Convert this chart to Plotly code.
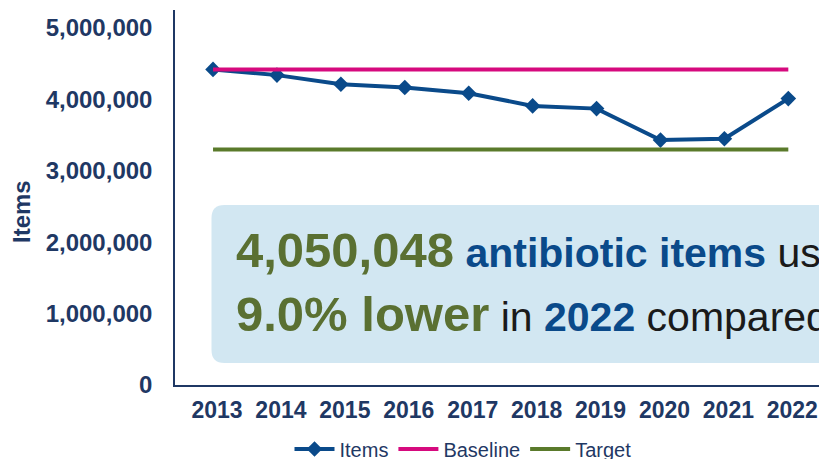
import plotly.graph_objects as go

# Annual antibiotic items with baseline and target reference levels
years = ["2013", "2014", "2015", "2016", "2017", "2018", "2019", "2020", "2021", "2022"]
items = [4420000, 4340000, 4213000, 4167000, 4087000, 3909000, 3871000, 3430000, 3448000, 4011000]
baseline = [4420000] * len(years)
target = [3300000] * len(years)
y_ticks = [0, 1000000, 2000000, 3000000, 4000000, 5000000]

NAVY = "#1F3864"
BLUE = "#0A4A8A"
MAGENTA = "#D60A7E"
GREEN_LINE = "#5A7A2B"
GREEN_TEXT = "#5A7032"
FONT = "Liberation Sans, Arial, sans-serif"

W, H = 819, 459
ML, MR, MT, MB = 175, 0, 10, 74
PW, PH = W - ML - MR, H - MT - MB


def px(x):
    return (x - ML) / PW


def py(y):
    return (H - MB - y) / PH


fig = go.Figure()
fig.add_trace(go.Scatter(
    x=years, y=items, name="Items", mode="lines+markers",
    line=dict(color=BLUE, width=4),
    marker=dict(symbol="diamond", size=12, color=BLUE),
))
fig.add_trace(go.Scatter(
    x=years, y=baseline, name="Baseline", mode="lines",
    line=dict(color=MAGENTA, width=4),
))
fig.add_trace(go.Scatter(
    x=years, y=target, name="Target", mode="lines",
    line=dict(color=GREEN_LINE, width=4),
))

# Rounded call-out panel (extends past the right edge)
x0, x1, y0, y1, r = 211.5, 900, 205, 363, 13
path = (
    f"M {px(x0 + r)},{py(y0)} L {px(x1 - r)},{py(y0)} "
    f"Q {px(x1)},{py(y0)} {px(x1)},{py(y0 + r)} L {px(x1)},{py(y1 - r)} "
    f"Q {px(x1)},{py(y1)} {px(x1 - r)},{py(y1)} L {px(x0 + r)},{py(y1)} "
    f"Q {px(x0)},{py(y1)} {px(x0)},{py(y1 - r)} L {px(x0)},{py(y0 + r)} "
    f"Q {px(x0)},{py(y0)} {px(x0 + r)},{py(y0)} Z"
)
fig.add_shape(type="path", path=path, xref="paper", yref="paper",
              fillcolor="#D2E7F2", line=dict(width=0), layer="below")

line1 = (f"<b><span style='color:{GREEN_TEXT};font-size:49px'>4,050,048</span> "
         f"<span style='color:{BLUE}'>antibiotic items</span></b> used in 2022")
line2 = (f"<b><span style='color:{GREEN_TEXT};font-size:49px'>9.0% lower</span></b> in "
         f"<b><span style='color:{BLUE}'>2022</span></b> compared to baseline")
fig.add_annotation(text=line1, xref="paper", yref="paper", x=px(234), y=py(250),
                   xanchor="left", yanchor="middle", showarrow=False, align="left",
                   font=dict(family=FONT, size=41, color="#1A1A1A"))
fig.add_annotation(text=line2, xref="paper", yref="paper", x=px(234), y=py(314),
                   xanchor="left", yanchor="middle", showarrow=False, align="left",
                   font=dict(family=FONT, size=41, color="#1A1A1A"))

# Y axis title
fig.add_annotation(text="<b>Items</b>", xref="paper", yref="paper", x=px(22), y=py(212),
                   xanchor="center", yanchor="middle", showarrow=False, textangle=-90,
                   font=dict(family=FONT, size=24, color=NAVY))

fig.update_xaxes(
    type="category", range=[-0.595, 9.48], showgrid=False, zeroline=False,
    showline=True, linecolor=NAVY, linewidth=1.5, ticks="",
    ticklabelstandoff=4, ticklabelshift=4,
    tickfont=dict(family=FONT, size=23, color=NAVY, weight="bold"),
)
fig.update_yaxes(
    range=[0, 5252000], tickvals=y_ticks, tickformat=",.0f",
    showgrid=False, zeroline=False, showline=True, linecolor=NAVY, linewidth=1.5,
    ticks="", ticklabelstandoff=16,
    tickfont=dict(family=FONT, size=24, color=NAVY, weight="bold"),
)

fig.update_layout(
    width=W, height=H,
    margin=dict(l=ML, r=MR, t=MT, b=MB, pad=0, autoexpand=False),
    paper_bgcolor="white", plot_bgcolor="white",
    showlegend=True,
    legend=dict(orientation="h", x=px(463), xanchor="center",
                yref="container", y=(H - 449) / H, yanchor="middle",
                itemwidth=40,
                font=dict(family=FONT, size=20, color=NAVY), bgcolor="rgba(0,0,0,0)"),
)

fig.write_html("out.html")
